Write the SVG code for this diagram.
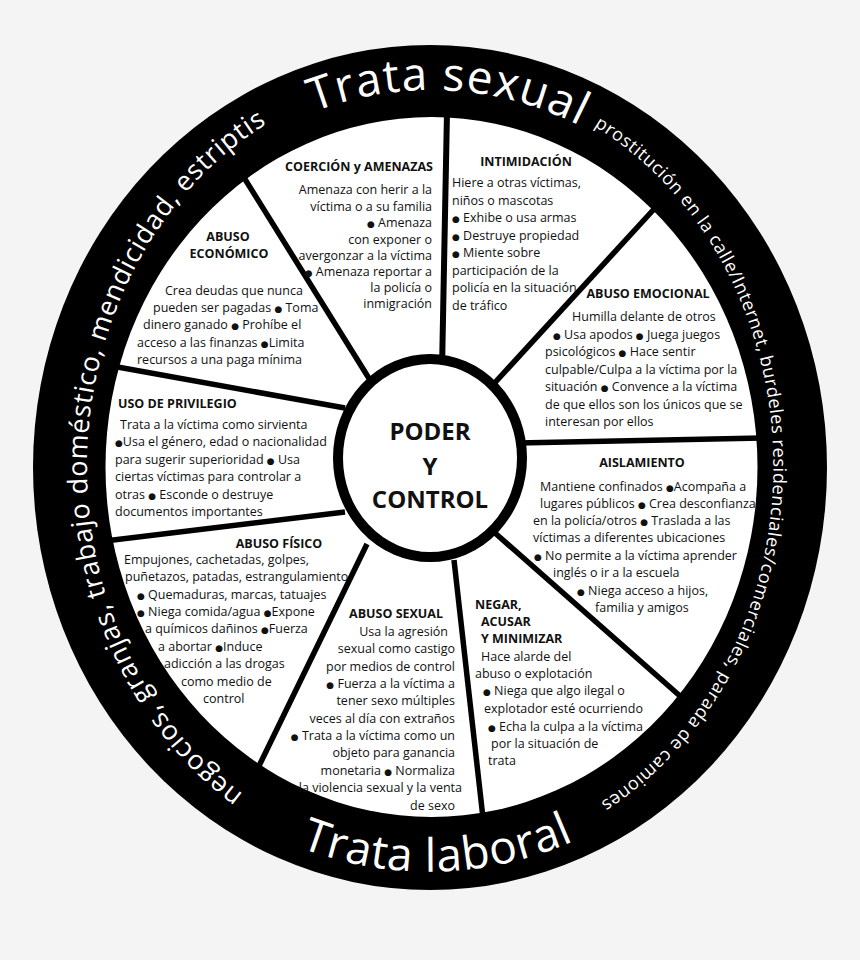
<svg xmlns="http://www.w3.org/2000/svg" width="860" height="960" viewBox="0 0 860 960">
<defs>
<style>
.t{font-family:"Open Sans","DejaVu Sans",sans-serif;font-size:12.5px;fill:#111}
.h{font-weight:bold}
.b{font-family:"DejaVu Sans",sans-serif;font-size:9px}
.c{font-family:"Open Sans","DejaVu Sans",sans-serif;font-size:24px;font-weight:bold;fill:#111;text-anchor:middle}
.r{font-family:"Open Sans","DejaVu Sans",sans-serif;fill:#fff}
.rl{font-size:27px;letter-spacing:0.75px}
.rr{font-size:18px;letter-spacing:0.571px}
.rs{font-size:46px;letter-spacing:1.18px}
.rb{font-size:46px;letter-spacing:0.72px}
.m{text-anchor:middle}
.e{text-anchor:end}
.sp{stroke:#000;stroke-width:5.5;fill:none}
</style>
<path id="pLeft" d="M 243.2 794.1 A 343 390 0 0 1 274.3 119.5"/>
<path id="pSex" d="M 314 112 A 349 377 0 0 1 580 126"/>
<path id="pRight" d="M 594 126 A 342.5 387 0 0 1 595 806"/>
<path id="pLab" d="M 300 847.5 A 379 404 0 0 0 576 840"/>
</defs>
<rect width="860" height="960" fill="#f4f4f4"/>
<g id="wheel">
<ellipse cx="430" cy="467.5" rx="397" ry="422.5" fill="#000"/>
<ellipse cx="431.5" cy="467" rx="326" ry="350" fill="#fff"/>
</g>
<g id="connectors">
<line class="sp" x1="447" y1="112" x2="442" y2="370" style="stroke-width:6"/>
<line class="sp" x1="655" y1="208" x2="490" y2="388"/>
<line class="sp" x1="518" y1="443" x2="762" y2="438"/>
<line class="sp" x1="495" y1="533" x2="680" y2="696"/>
<line class="sp" x1="454" y1="560" x2="483" y2="818"/>
<line class="sp" x1="367" y1="544" x2="258" y2="768"/>
<line class="sp" x1="345" y1="512" x2="105" y2="541"/>
<line class="sp" x1="345" y1="408" x2="112" y2="366"/>
<line class="sp" x1="243" y1="176" x2="370" y2="380"/>
</g>
<g id="center">
<ellipse cx="430" cy="458" rx="92" ry="99" fill="#fff" stroke="#000" stroke-width="10"/>
<text class="c" x="430" y="440">PODER</text>
<text class="c" x="430" y="475">Y</text>
<text class="c" x="430" y="508">CONTROL</text>
</g>
<g id="coercion">
<text class="t h e" x="433" y="171">COERCIÓN y AMENAZAS</text>
<text class="t e" x="432" y="194">Amenaza con herir a la</text>
<text class="t e" x="432" y="210.5">víctima o a su familia</text>
<text class="t e" x="432" y="227"><tspan class="b">●</tspan> Amenaza</text>
<text class="t e" x="432" y="243.5">con exponer o</text>
<text class="t e" x="432" y="259.5">avergonzar a la víctima</text>
<text class="t e" x="432" y="275.5"><tspan class="b">●</tspan> Amenaza reportar a</text>
<text class="t e" x="432" y="291.5">la policía o</text>
<text class="t e" x="432" y="307.5">inmigración</text>
</g>
<g id="intimidacion">
<text class="t h m" x="526" y="165.5">INTIMIDACIÓN</text>
<text class="t" x="452" y="187">Hiere a otras víctimas,</text>
<text class="t" x="452" y="204.5">niños o mascotas</text>
<text class="t" x="452" y="222"><tspan class="b">●</tspan> Exhibe o usa armas</text>
<text class="t" x="452" y="239.5"><tspan class="b">●</tspan> Destruye propiedad</text>
<text class="t" x="452" y="257"><tspan class="b">●</tspan> Miente sobre</text>
<text class="t" x="452" y="274.5">participación de la</text>
<text class="t" x="452" y="292">policía en la situación</text>
<text class="t" x="452" y="309.5">de tráfico</text>
</g>
<g id="emocional">
<text class="t h m" x="648" y="297.5">ABUSO EMOCIONAL</text>
<text class="t" x="572" y="321">Humilla delante de otros</text>
<text class="t" x="553" y="338.5"><tspan class="b">●</tspan> Usa apodos <tspan class="b">●</tspan> Juega juegos</text>
<text class="t" x="545" y="356">psicológicos <tspan class="b">●</tspan> Hace sentir</text>
<text class="t" x="545" y="373.5">culpable/Culpa a la víctima por la</text>
<text class="t" x="545" y="391">situación <tspan class="b">●</tspan> Convence a la víctima</text>
<text class="t" x="545" y="408.5">de que ellos son los únicos que se</text>
<text class="t" x="545" y="426">interesan por ellos</text>
</g>
<g id="aislamiento">
<text class="t h m" x="642" y="467">AISLAMIENTO</text>
<text class="t" x="540" y="490.5">Mantiene confinados <tspan class="b">●</tspan>Acompaña a</text>
<text class="t" x="540" y="507.5">lugares públicos <tspan class="b">●</tspan> Crea desconfianza</text>
<text class="t" x="533" y="525">en la policía/otros <tspan class="b">●</tspan> Traslada a las</text>
<text class="t" x="533" y="542">víctimas a diferentes ubicaciones</text>
<text class="t" x="534" y="560"><tspan class="b">●</tspan> No permite a la víctima aprender</text>
<text class="t" x="553" y="577">inglés o ir a la escuela</text>
<text class="t" x="577" y="594.5"><tspan class="b">●</tspan> Niega acceso a hijos,</text>
<text class="t" x="595" y="612">familia y amigos</text>
</g>
<g id="negar">
<text class="t h" x="475" y="608.5">NEGAR,</text>
<text class="t h" x="481" y="625.5">ACUSAR</text>
<text class="t h" x="481" y="643">Y MINIMIZAR</text>
<text class="t" x="481" y="660.5">Hace alarde del</text>
<text class="t" x="475" y="678">abuso o explotación</text>
<text class="t" x="483" y="695"><tspan class="b">●</tspan> Niega que algo ilegal o</text>
<text class="t" x="484" y="712.5">explotador esté ocurriendo</text>
<text class="t" x="488" y="730.5"><tspan class="b">●</tspan> Echa la culpa a la víctima</text>
<text class="t" x="491" y="748">por la situación de</text>
<text class="t" x="488" y="765">trata</text>
</g>
<g id="abuso-sexual">
<text class="t h e" x="443" y="617.5">ABUSO SEXUAL</text>
<text class="t e" x="448" y="635.5">Usa la agresión</text>
<text class="t e" x="455" y="653">sexual como castigo</text>
<text class="t e" x="455" y="670.5">por medios de control</text>
<text class="t e" x="455" y="687.5"><tspan class="b">●</tspan> Fuerza a la víctima a</text>
<text class="t e" x="455" y="705">tener sexo múltiples</text>
<text class="t e" x="455" y="722.5">veces al día con extraños</text>
<text class="t e" x="455" y="740"><tspan class="b">●</tspan> Trata a la víctima como un</text>
<text class="t e" x="455" y="757">objeto para ganancia</text>
<text class="t e" x="455" y="774.5">monetaria <tspan class="b">●</tspan> Normaliza</text>
<text class="t e" x="462" y="792">la violencia sexual y la venta</text>
<text class="t e" x="455" y="809.5">de sexo</text>
</g>
<g id="abuso-fisico">
<text class="t h m" x="279" y="548">ABUSO FÍSICO</text>
<text class="t" x="124" y="563.5">Empujones, cachetadas, golpes,</text>
<text class="t" x="125" y="581">puñetazos, patadas, estrangulamiento</text>
<text class="t" x="137" y="598.5"><tspan class="b">●</tspan> Quemaduras, marcas, tatuajes</text>
<text class="t" x="137" y="615.5"><tspan class="b">●</tspan> Niega comida/agua <tspan class="b">●</tspan>Expone</text>
<text class="t" x="145" y="633">a químicos dañinos <tspan class="b">●</tspan>Fuerza</text>
<text class="t" x="158" y="650.5">a abortar <tspan class="b">●</tspan>Induce</text>
<text class="t" x="164" y="668">adicción a las drogas</text>
<text class="t" x="181" y="685.5">como medio de</text>
<text class="t" x="203" y="703">control</text>
</g>
<g id="privilegio">
<text class="t h" x="118" y="408">USO DE PRIVILEGIO</text>
<text class="t" x="120" y="428.5">Trata a la víctima como sirvienta</text>
<text class="t" x="115" y="446"><tspan class="b">●</tspan>Usa el género, edad o nacionalidad</text>
<text class="t" x="115" y="463.5">para sugerir superioridad  <tspan class="b">●</tspan> Usa</text>
<text class="t" x="115" y="481">ciertas víctimas para controlar a</text>
<text class="t" x="115" y="498.5">otras <tspan class="b">●</tspan> Esconde o destruye</text>
<text class="t" x="115" y="515.5">documentos importantes</text>
</g>
<g id="economico">
<text class="t h m" x="228" y="241">ABUSO</text>
<text class="t h m" x="229" y="257.5">ECONÓMICO</text>
<text class="t" x="165" y="294.5">Crea deudas que nunca</text>
<text class="t" x="153" y="311.5">pueden ser pagadas <tspan class="b">●</tspan> Toma</text>
<text class="t" x="143" y="329">dinero ganado <tspan class="b">●</tspan> Prohíbe el</text>
<text class="t" x="137" y="346.5">acceso a las finanzas <tspan class="b">●</tspan>Limita</text>
<text class="t" x="137" y="364">recursos a una paga mínima</text>
</g>
<g id="ring-text">
<text class="r rl"><textPath href="#pLeft" startOffset="0">nego</textPath></text>
<text class="r rl"><textPath href="#pLeft" startOffset="65.8">cios,</textPath></text>
<text class="r rl"><textPath href="#pLeft" startOffset="132.8">gran</textPath></text>
<text class="r rl"><textPath href="#pLeft" startOffset="193.2">jas,</textPath></text>
<text class="r rl"><textPath href="#pLeft" startOffset="245.3">trabajo</textPath></text>
<text class="r rl"><textPath href="#pLeft" startOffset="348.6">doméstico,</textPath></text>
<text class="r rl"><textPath href="#pLeft" startOffset="502">mendi</textPath></text>
<text class="r rl"><textPath href="#pLeft" startOffset="586">cidad,</textPath></text>
<text class="r rl"><textPath href="#pLeft" startOffset="672.6">estriptis</textPath></text>
<text class="r rs"><textPath href="#pSex" startOffset="0">Trata</textPath></text>
<text class="r rs"><textPath href="#pSex" startOffset="130.5">sexual</textPath></text>
<text class="r rr"><textPath href="#pRight" startOffset="0">prostitución en la calle/</textPath></text>
<text class="r rr"><textPath href="#pRight" startOffset="209.6">Internet,</textPath></text>
<text class="r rr"><textPath href="#pRight" startOffset="291.45">burdeles</textPath></text>
<text class="r rr"><textPath href="#pRight" startOffset="375.1">residen</textPath></text>
<text class="r rr"><textPath href="#pRight" startOffset="441.87">ciales/</textPath></text>
<text class="r rr"><textPath href="#pRight" startOffset="498.85">comerciales,</textPath></text>
<text class="r rr"><textPath href="#pRight" startOffset="615.35">parada</textPath></text>
<text class="r rr"><textPath href="#pRight" startOffset="683.5">de</textPath></text>
<text class="r rr"><textPath href="#pRight" startOffset="711.05">camiones</textPath></text>
<text class="r rb"><textPath href="#pLab" startOffset="0">Trata</textPath></text>
<text class="r rb"><textPath href="#pLab" startOffset="127.8">la</textPath></text>
<text class="r rb"><textPath href="#pLab" startOffset="166.45">boral</textPath></text>
</g>
</svg>
